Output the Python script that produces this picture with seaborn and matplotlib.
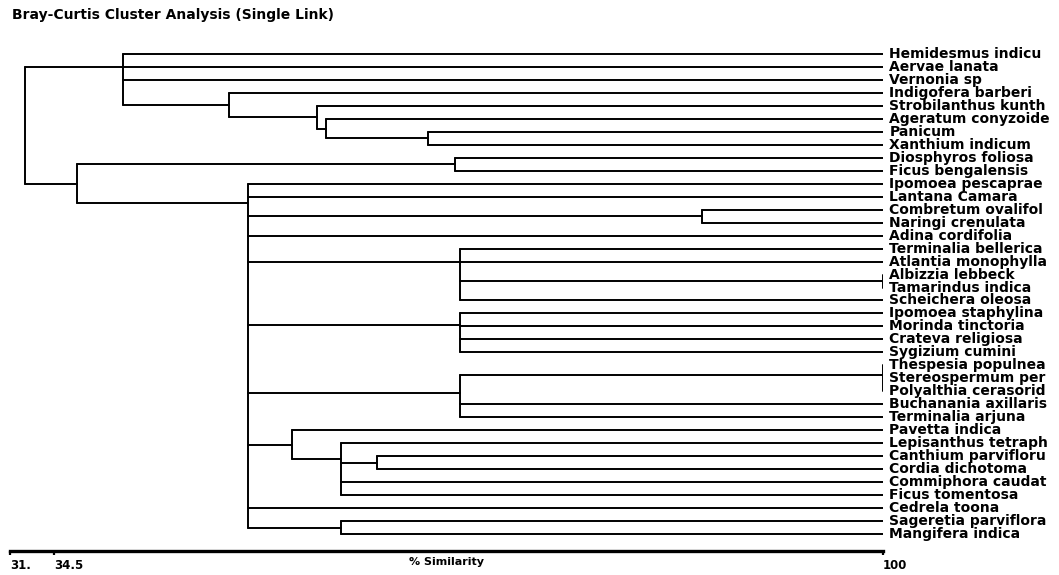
# Bray-Curtis single link dendrogram (species similarity)
import pandas as pd
import matplotlib
matplotlib.use("Agg")
import matplotlib.pyplot as plt
import seaborn as sns

# leaves, top to bottom
species = [
    "Hemidesmus indicu", "Aervae lanata", "Vernonia sp", "Indigofera barberi",
    "Strobilanthus kunth", "Ageratum conyzoide", "Panicum", "Xanthium indicum",
    "Diosphyros foliosa", "Ficus bengalensis", "Ipomoea pescaprae", "Lantana Camara",
    "Combretum ovalifol", "Naringi crenulata", "Adina cordifolia", "Terminalia bellerica",
    "Atlantia monophylla", "Albizzia lebbeck", "Tamarindus indica", "Scheichera oleosa",
    "Ipomoea staphylina", "Morinda tinctoria", "Crateva religiosa", "Sygizium cumini",
    "Thespesia populnea", "Stereospermum per", "Polyalthia cerasorid", "Buchanania axillaris",
    "Terminalia arjuna", "Pavetta indica", "Lepisanthus tetraph", "Canthium parvifloru",
    "Cordia dichotoma", "Commiphora caudat", "Ficus tomentosa", "Cedrela toona",
    "Sageretia parviflora", "Mangifera indica",
]

# merges: % similarity of each join and its members (names = species, ints = earlier merge)
merge_level = [64.0, 56.0, 55.3, 48.3, 39.9, 66.2, 85.7, 100.0, 66.6, 66.6,
               100.0, 66.6, 60.0, 57.2, 53.3, 57.2, 49.8, 36.3, 32.2]
merge_members = [
    ["Panicum", "Xanthium indicum"],
    ["Ageratum conyzoide", 0],
    ["Strobilanthus kunth", 1],
    ["Indigofera barberi", 2],
    ["Hemidesmus indicu", "Aervae lanata", "Vernonia sp", 3],
    ["Diosphyros foliosa", "Ficus bengalensis"],
    ["Combretum ovalifol", "Naringi crenulata"],
    ["Albizzia lebbeck", "Tamarindus indica"],
    ["Terminalia bellerica", "Atlantia monophylla", 7, "Scheichera oleosa"],
    ["Ipomoea staphylina", "Morinda tinctoria", "Crateva religiosa", "Sygizium cumini"],
    ["Thespesia populnea", "Stereospermum per", "Polyalthia cerasorid"],
    [10, "Buchanania axillaris", "Terminalia arjuna"],
    ["Canthium parvifloru", "Cordia dichotoma"],
    ["Lepisanthus tetraph", 12, "Commiphora caudat", "Ficus tomentosa"],
    ["Pavetta indica", 13],
    ["Sageretia parviflora", "Mangifera indica"],
    ["Ipomoea pescaprae", "Lantana Camara", 6, "Adina cordifolia", 8, 9, 11, 14,
     "Cedrela toona", 15],
    [5, 16],
    [4, 17],
]

axis_ticks = [31, 34.5, 100]
axis_ticklabels = ["31.", "34.5", "100"]


def build_segments():
    leaf_y = {name: i for i, name in enumerate(species)}
    node_y = {}
    rows = []
    seg = 0

    def pos(m):
        if isinstance(m, int):
            return node_y[m], merge_level[m]
        return leaf_y[m], 100.0

    for k, members in enumerate(merge_members):
        lev = merge_level[k]
        ys = [pos(m)[0] for m in members]
        # ties are nested from the right, each join sits midway between its two parts
        y = ys[-1]
        for v in reversed(ys[:-1]):
            y = (v + y) / 2
        node_y[k] = y
        rows += [(lev, ys[0], seg), (lev, ys[-1], seg)]
        seg += 1
        for m in members:
            my, mlev = pos(m)
            rows += [(lev, my, seg), (mlev, my, seg)]
            seg += 1
    return pd.DataFrame(rows, columns=["similarity", "y", "seg"])


sns.set_theme(style="white")
plt.rcParams["font.family"] = ["DejaVu Sans"]
plt.rcParams["text.color"] = "black"
plt.rcParams["xtick.color"] = "black"
plt.rcParams["axes.labelcolor"] = "black"

df = build_segments()

W, H = 1059, 575
fig = plt.figure(figsize=(W / 100, H / 100), dpi=100)
ax_left, ax_right, ax_top, ax_bot = 10, 883, 40, 551
ax = fig.add_axes([ax_left / W, 1 - ax_bot / H, (ax_right - ax_left) / W, (ax_bot - ax_top) / H])

sns.lineplot(data=df, x="similarity", y="y", units="seg", estimator=None, sort=False,
             color="black", linewidth=1.4, ax=ax, legend=False)

row = 12.97
ax.set_xlim(31, 100)
ax.set_ylim(len(species) - 1 + (ax_bot - 534) / row, -(54 - ax_top) / row)

for i, name in enumerate(species):
    ax.text(100.5, i, name, ha="left", va="center", fontsize=10, fontweight="bold",
            color="black", clip_on=False)

for s in ["top", "right", "left"]:
    ax.spines[s].set_visible(False)
ax.spines["bottom"].set_linewidth(2.4)
ax.spines["bottom"].set_color("black")
ax.set_yticks([])
ax.set_ylabel("")
ax.set_xticks(axis_ticks)
ax.set_xticklabels(axis_ticklabels, fontsize=8.5, fontweight="bold", ha="left")
ax.tick_params(axis="x", direction="out", length=3, width=1.6, color="black", pad=3,
               bottom=True)
ax.set_xlabel("% Similarity", fontsize=8, fontweight="bold")
ax.xaxis.set_label_coords(0.5, -(557 - ax_bot) / (ax_bot - ax_top))
ax.xaxis.label.set_va("top")

fig.text(12 / W, 1 - 15 / H, "Bray-Curtis Cluster Analysis (Single Link)",
         ha="left", va="center", fontsize=10, fontweight="bold", color="black")

fig.savefig("out.png", dpi=100, facecolor="white")
